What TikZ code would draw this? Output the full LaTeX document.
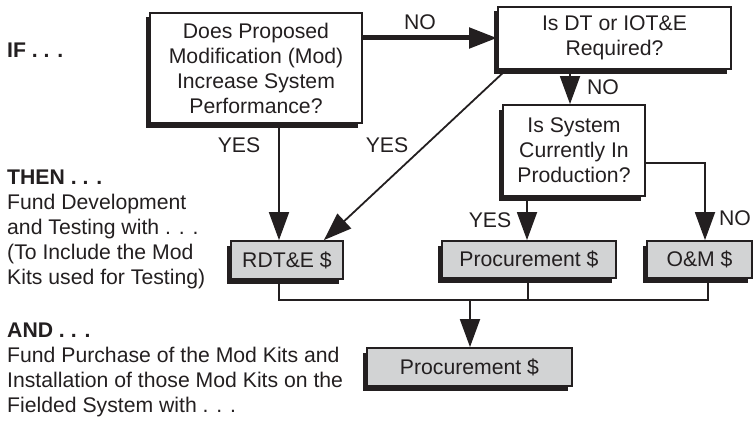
\documentclass[tikz,border=0pt]{standalone}
\usepackage{fontspec}
\setmainfont{Liberation Sans}
\usetikzlibrary{arrows.meta,shadows}
\definecolor{ink}{RGB}{35,31,32}
\definecolor{boxgray}{RGB}{210,211,212}
\begin{document}
\begin{tikzpicture}[x=1pt,y=-1pt,
  font=\fontsize{21.2}{25}\selectfont, text=ink,
  qbox/.style={draw=ink, line width=1.8pt, fill=white, align=center, inner sep=0pt,
    drop shadow={shadow xshift=-4.5pt, shadow yshift=-4.5pt, fill=ink, opacity=1}},
  fbox/.style={qbox, fill=boxgray},
  conn/.style={draw=ink, line width=1.8pt},
  arr/.style={conn, -{Triangle[length=28pt 0 0,width=20pt 0 0]}},
  lbl/.style={inner sep=0pt},
  side/.style={anchor=north west, align=left, inner sep=0pt}
]
\useasboundingbox (0,0) rectangle (754,420);

% left column texts
\node[lbl, anchor=west, font=\fontsize{21.2}{25}\selectfont\bfseries] (tif) at (7,50) {IF . . .};
\node[side] (tthen) at (7,169.5) {\textbf{THEN . . .}\\Fund Development\\and Testing with . . .\\(To Include the Mod\\Kits used for Testing)};
\node[side] (tand) at (7,322.5) {\textbf{AND . . .}\\Fund Purchase of the Mod Kits and\\Installation of those Mod Kits on the\\Fielded System with . . .};

% boxes
\node[qbox, minimum width=212pt, minimum height=110pt] (q1) at (256,68) {Does Proposed\\Modification (Mod)\\Increase System\\Performance?};
\node[qbox, minimum width=233pt, minimum height=62pt] (q2) at (614.5,38) {Is DT or IOT\&E\\Required?};
\node[qbox, minimum width=142pt, minimum height=91pt] (q3) at (574,150.5) {Is System\\Currently In\\Production?};
\node[fbox, minimum width=112pt, minimum height=38pt] (rdte) at (287,260) {RDT\&E \$};
\node[fbox, minimum width=174pt, minimum height=37pt] (pm) at (529,259.5) {Procurement \$};
\node[fbox, minimum width=105pt, minimum height=37pt] (om) at (699.5,259.5) {O\&M \$};
\node[fbox, minimum width=205pt, minimum height=38pt] (pb) at (469.5,367) {Procurement \$};

% helper coordinates
\coordinate (xa) at (279,0);
\coordinate (xb) at (570,0);
\coordinate (xc) at (527,0);
\coordinate (xd) at (705,0);
\coordinate (xe) at (470,0);
\coordinate (yno) at (0,163);
\coordinate (busL) at (279,300);
\coordinate (busR) at (708,300);
\coordinate (busM) at (528,300);

% connectors
\draw[arr, line width=5pt] (q1.east |- q2.west) -- (q2.west);
\node[lbl] (lno1) at (420,22) {NO};
\draw[arr] (q2.south -| xb) -- (q3.north -| xb);
\node[lbl] (lno2) at (603,87) {NO};
\draw[arr] (q1.south -| xa) -- (rdte.north -| xa);
\node[lbl] (lyes1) at (239,145) {YES};
\draw[arr] ([xshift=9pt]q2.south west) -- ([xshift=-20pt]rdte.north east);
\node[lbl] (lyes2) at (387,145) {YES};
\draw[arr] (q3.south -| xc) -- (pm.north -| xc);
\node[lbl] (lyes3) at (490,220) {YES};
\draw[arr] (q3.east |- yno) -| (om.north -| xd);
\node[lbl] (lno3) at (735,218) {NO};

% collection bus
\draw[conn] (rdte.south -| busL) -- (busL) -- (busR) -- (om.south -| busR);
\draw[conn] (pm.south -| busM) -- (busM);
\draw[arr] (xe |- busL) -- (pb.north -| xe);
\end{tikzpicture}
\end{document}
